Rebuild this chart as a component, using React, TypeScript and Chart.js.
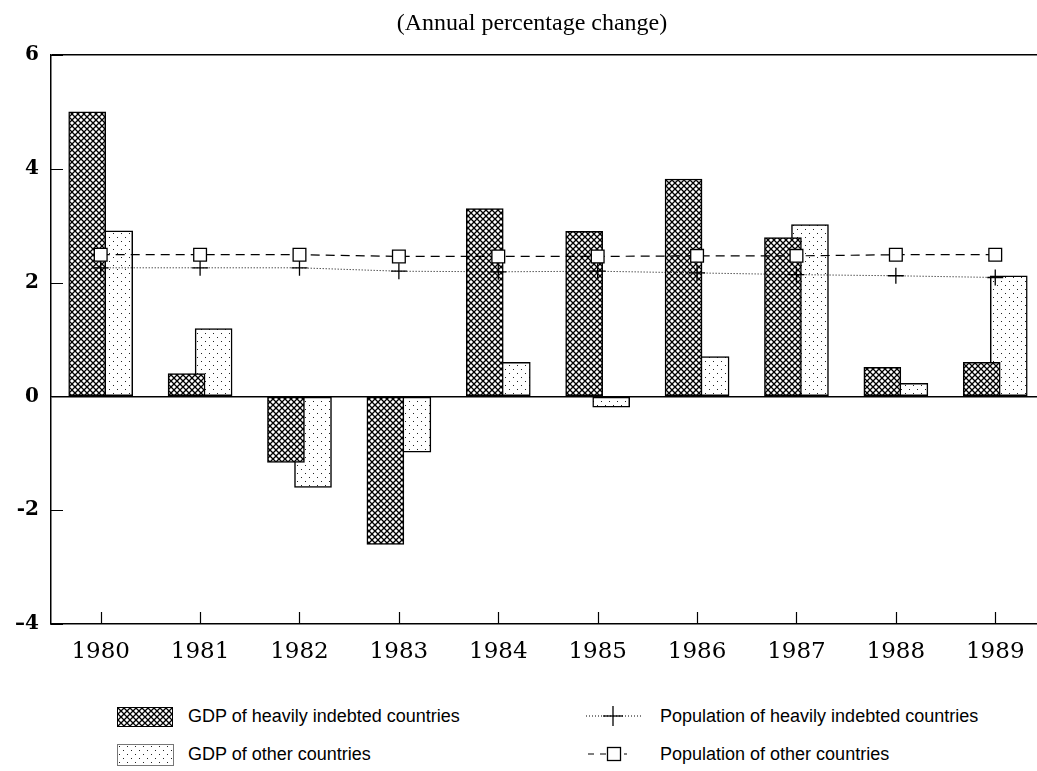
import React, { useEffect, useMemo, useRef } from 'react';
import { Chart, registerables } from 'chart.js';

Chart.register(...registerables);

// ---------- data ----------
const TITLE = '(Annual percentage change)';
const YEARS = [1980, 1981, 1982, 1983, 1984, 1985, 1986, 1987, 1988, 1989];
const GDP_HEAVILY_INDEBTED = [5.0, 0.4, -1.16, -2.6, 3.3, 2.9, 3.82, 2.79, 0.51, 0.6];
const GDP_OTHER = [2.91, 1.19, -1.6, -0.98, 0.6, -0.19, 0.7, 3.02, 0.23, 2.12];
const POP_HEAVILY_INDEBTED = [2.26, 2.26, 2.26, 2.2, 2.19, 2.2, 2.17, 2.14, 2.12, 2.09];
const POP_OTHER = [2.49, 2.49, 2.49, 2.46, 2.46, 2.46, 2.47, 2.47, 2.49, 2.49];
const Y_TICKS = [-4, -2, 0, 2, 4, 6];
const Y_TICK_LABELS = ['\u20134', '-2', '0', '2', '4', '6'];
const SERIES_LABELS = [
  'GDP of heavily indebted countries',
  'GDP of other countries',
  'Population of heavily indebted countries',
  'Population of other countries',
];

// ---------- style constants ----------
const X_MIN = 1979.5;
const X_MAX = 1989.42;
const BAR_SHIFT = 0.136; // half-overlap shift of paired bars (in years)
const BAR_THICKNESS = 37;

function makeHatchTile(): HTMLCanvasElement {
  const s = 6;
  const c = document.createElement('canvas');
  c.width = s;
  c.height = s;
  const g = c.getContext('2d')!;
  g.fillStyle = '#fff';
  g.fillRect(0, 0, s, s);
  g.strokeStyle = '#000';
  g.lineWidth = 1.3;
  for (const o of [-s, 0, s]) {
    g.beginPath();
    g.moveTo(o, 0);
    g.lineTo(o + s, s);
    g.moveTo(o, s);
    g.lineTo(o + s, 0);
    g.stroke();
  }
  return c;
}

function makeDotTile(): HTMLCanvasElement {
  const s = 8;
  const c = document.createElement('canvas');
  c.width = s;
  c.height = s;
  const g = c.getContext('2d')!;
  g.fillStyle = '#fff';
  g.fillRect(0, 0, s, s);
  g.fillStyle = '#222';
  g.fillRect(1, 1, 1, 1);
  g.fillRect(5, 5, 1, 1);
  return c;
}

const ZERO_PAD = () => ({ left: 0, top: 0, right: 0, bottom: 0 });

const innerTicks = {
  id: 'innerTicks',
  afterDatasetsDraw(chart: any) {
    const { ctx, chartArea, scales } = chart;
    const x = scales.x;
    const y = scales.y;
    ctx.save();
    ctx.strokeStyle = '#000';
    ctx.lineWidth = 1.2;
    ctx.beginPath();
    x.ticks.forEach((t: any) => {
      const px = Math.round(x.getPixelForValue(t.value)) + 0.5;
      ctx.moveTo(px, chartArea.bottom);
      ctx.lineTo(px, chartArea.bottom - 12);
    });
    y.ticks.forEach((t: any) => {
      const py = Math.round(y.getPixelForValue(t.value)) + 0.5;
      ctx.moveTo(chartArea.left, py);
      ctx.lineTo(chartArea.left + 12, py);
    });
    ctx.stroke();
    ctx.restore();
  },
};

export default function App() {
  const canvasRef = useRef<HTMLCanvasElement | null>(null);
  const tiles = useMemo(() => {
    const h = makeHatchTile();
    const d = makeDotTile();
    return { hatch: h, dots: d, hatchUrl: h.toDataURL(), dotsUrl: d.toDataURL() };
  }, []);

  useEffect(() => {
    const canvas = canvasRef.current;
    if (!canvas) return;
    const ctx = canvas.getContext('2d')!;
    const hatchPattern = ctx.createPattern(tiles.hatch, 'repeat')!;
    const dotPattern = ctx.createPattern(tiles.dots, 'repeat')!;

    const chart = new Chart(canvas, {
      type: 'bar',
      data: {
        datasets: [
          {
            type: 'line',
            label: SERIES_LABELS[3],
            data: YEARS.map((x, i) => ({ x, y: POP_OTHER[i] })),
            borderColor: '#000',
            borderWidth: 1.2,
            borderDash: [9, 6],
            pointStyle: 'rect',
            pointRadius: 9,
            pointBackgroundColor: '#fff',
            pointBorderColor: '#000',
            pointBorderWidth: 1.3,
            fill: false,
            tension: 0,
            order: 0,
          } as any,
          {
            type: 'line',
            label: SERIES_LABELS[2],
            data: YEARS.map((x, i) => ({ x, y: POP_HEAVILY_INDEBTED[i] })),
            borderColor: '#000',
            borderWidth: 1,
            borderDash: [1, 2],
            pointStyle: 'cross',
            pointRadius: 8,
            pointBorderColor: '#000',
            pointBorderWidth: 1.3,
            fill: false,
            tension: 0,
            order: 1,
          } as any,
          {
            type: 'bar',
            label: SERIES_LABELS[0],
            data: YEARS.map((x, i) => ({ x: x - BAR_SHIFT, y: GDP_HEAVILY_INDEBTED[i] })),
            backgroundColor: hatchPattern as any,
            borderColor: '#000',
            borderWidth: 1.5,
            borderSkipped: false,
            barThickness: BAR_THICKNESS,
            grouped: false,
            order: 2,
          } as any,
          {
            type: 'bar',
            label: SERIES_LABELS[1],
            data: YEARS.map((x, i) => ({ x: x + BAR_SHIFT, y: GDP_OTHER[i] })),
            backgroundColor: dotPattern as any,
            borderColor: '#000',
            borderWidth: 1.5,
            borderSkipped: false,
            barThickness: BAR_THICKNESS,
            grouped: false,
            order: 3,
          } as any,
        ],
      },
      options: {
        responsive: false,
        animation: false,
        layout: { autoPadding: false, padding: { top: 55, left: 0, right: 0, bottom: 0 } },
        plugins: {
          legend: { display: false },
          tooltip: { enabled: false },
          title: { display: false },
        },
        scales: {
          x: {
            type: 'linear',
            offset: false,
            min: X_MIN,
            max: X_MAX,
            afterBuildTicks: (s: any) => {
              s.ticks = YEARS.map((v) => ({ value: v }));
            },
            afterFit: (s: any) => {
              s.height = 66;
              s.paddingLeft = 0;
              s.paddingRight = 0;
              s.getPadding = ZERO_PAD;
            },
            ticks: {
              callback: (v: any) => String(v),
              font: { family: 'DejaVu Serif', size: 23 },
              color: '#000',
              padding: 14,
              maxRotation: 0,
              autoSkip: false,
            },
            grid: { display: false, drawTicks: false },
            border: { display: true, color: '#000', width: 1.5 },
          },
          y: {
            type: 'linear',
            min: -4,
            max: 6,
            afterBuildTicks: (s: any) => {
              s.ticks = Y_TICKS.map((v) => ({ value: v }));
            },
            afterFit: (s: any) => {
              s.width = 51;
            },
            ticks: {
              callback: (v: any) => Y_TICK_LABELS[Y_TICKS.indexOf(Number(v))],
              font: { family: 'DejaVu Serif', size: 20, weight: 'bold' },
              color: '#000',
              padding: 12,
            },
            grid: {
              drawTicks: false,
              lineWidth: 1.5,
              color: (c: any) =>
                c.tick && (c.tick.value === 0 || c.tick.value === 6) ? '#000' : 'rgba(0,0,0,0)',
            },
            border: { display: true, color: '#000', width: 1.5 },
          },
        },
      } as any,
      plugins: [innerTicks],
    });
    return () => chart.destroy();
  }, [tiles]);

  const legendText: React.CSSProperties = {
    position: 'absolute',
    fontFamily: '"Liberation Sans", Arial, sans-serif',
    fontSize: 18,
    lineHeight: '22px',
    color: '#000',
    whiteSpace: 'nowrap',
  };

  return (
    <div
      style={{
        position: 'absolute',
        left: 0,
        top: 0,
        width: 1037,
        height: 771,
        background: '#fff',
        overflow: 'hidden',
      }}
    >
      <canvas
        ref={canvasRef}
        width={1037}
        height={690}
        style={{ position: 'absolute', left: 0, top: 0, width: 1037, height: 690 }}
      />
      <div
        style={{
          position: 'absolute',
          left: 532,
          top: 9,
          transform: 'translateX(-50%)',
          fontFamily: '"Liberation Serif", "Times New Roman", serif',
          fontSize: 24,
          lineHeight: '26px',
          whiteSpace: 'nowrap',
          color: '#000',
        }}
      >
        {TITLE}
      </div>

      {/* legend, left column */}
      <div
        style={{
          position: 'absolute',
          left: 117,
          top: 707,
          width: 54,
          height: 18,
          border: '1.5px solid #000',
          backgroundImage: `url(${tiles.hatchUrl})`,
        }}
      />
      <div style={{ ...legendText, left: 188, top: 705 }}>{SERIES_LABELS[0]}</div>
      <div
        style={{
          position: 'absolute',
          left: 117,
          top: 744,
          width: 55,
          height: 20,
          border: '1px solid #777',
          backgroundImage: `url(${tiles.dotsUrl})`,
        }}
      />
      <div style={{ ...legendText, left: 188, top: 743 }}>{SERIES_LABELS[1]}</div>

      {/* legend, right column */}
      <svg
        width={56}
        height={24}
        style={{ position: 'absolute', left: 586, top: 704 }}
      >
        <line x1={0} y1={12} x2={56} y2={12} stroke="#000" strokeWidth={1} strokeDasharray="1 2" />
        <line x1={27} y1={2} x2={27} y2={22} stroke="#000" strokeWidth={1.3} />
        <line x1={17} y1={12} x2={37} y2={12} stroke="#000" strokeWidth={1.3} />
      </svg>
      <div style={{ ...legendText, left: 660, top: 705 }}>{SERIES_LABELS[2]}</div>
      <svg
        width={56}
        height={24}
        style={{ position: 'absolute', left: 586, top: 742 }}
      >
        <line x1={2} y1={12} x2={41} y2={12} stroke="#000" strokeWidth={1.2} strokeDasharray="6 6" />
        <rect x={21.5} y={5.5} width={13} height={13} fill="#fff" stroke="#000" strokeWidth={1.3} />
      </svg>
      <div style={{ ...legendText, left: 660, top: 743 }}>{SERIES_LABELS[3]}</div>
    </div>
  );
}
